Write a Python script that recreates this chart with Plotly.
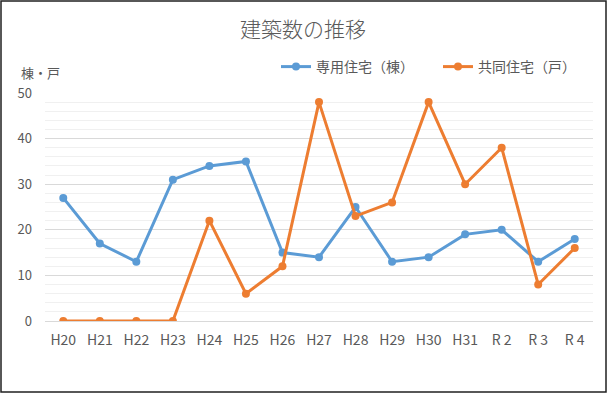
import plotly.graph_objects as go

categories = ["H20", "H21", "H22", "H23", "H24", "H25", "H26", "H27", "H28", "H29", "H30", "H31", "R 2", "R 3", "R 4"]
detached = [27, 17, 13, 31, 34, 35, 15, 14, 25, 13, 14, 19, 20, 13, 18]
collective = [0, 0, 0, 0, 22, 6, 12, 48, 23, 26, 48, 30, 38, 8, 16]

W, H = 608, 394
L, R, T, B = 45, 15, 93, 73
pw, ph = W - L - R, H - T - B

def px(x):
    return (x - L) / pw

def py(y):
    return (H - B - y) / ph

font_family = "Noto Sans CJK JP, Noto Sans, sans-serif"
gray = "#595959"

fig = go.Figure()
fig.add_trace(go.Scatter(x=categories, y=detached, mode="lines+markers", name="専用住宅（棟）",
                         line=dict(color="#5B9BD5", width=3), marker=dict(size=8, color="#5B9BD5"),
                         legend="legend"))
fig.add_trace(go.Scatter(x=categories, y=collective, mode="lines+markers", name="共同住宅（戸）",
                         line=dict(color="#ED7D31", width=3), marker=dict(size=8, color="#ED7D31"),
                         legend="legend2"))

legend_common = dict(orientation="h", xanchor="left", yanchor="middle",
                     font=dict(size=14, color=gray), bgcolor="rgba(0,0,0,0)", itemwidth=30)

fig.update_layout(
    width=W, height=H,
    margin=dict(l=L, r=R, t=T, b=B),
    paper_bgcolor="white", plot_bgcolor="white",
    font=dict(family=font_family, color=gray, size=13),
    title=dict(text="建築数の推移", x=303 / W, xanchor="center", y=1 - 30 / H, yanchor="middle",
               font=dict(size=21, color=gray, weight=300)),
    showlegend=True,
    legend=dict(x=px(276), y=py(67), **legend_common),
    legend2=dict(x=px(438), y=py(67), **legend_common),
    xaxis=dict(type="category", range=[-0.5, len(categories) - 0.5], showgrid=False, showline=False,
               ticks="", tickfont=dict(size=14, color=gray), ticklabelstandoff=9, fixedrange=True),
    yaxis=dict(range=[0, 50], dtick=10, showgrid=True, gridcolor="#D9D9D9", gridwidth=1,
               zeroline=True, zerolinecolor="#D9D9D9", zerolinewidth=1, showline=False, ticks="",
               tickfont=dict(size=13, color=gray), ticklabelstandoff=12, fixedrange=True,
               minor=dict(dtick=2, showgrid=True, gridcolor="#F0F0F0", gridwidth=1)),
)

fig.add_annotation(text="棟・戸", xref="paper", yref="paper", x=px(40), y=py(72),
                   showarrow=False, xanchor="center", yanchor="middle",
                   font=dict(size=13, color=gray, family=font_family))

fig.add_shape(type="rect", xref="paper", yref="paper",
              x0=px(1), x1=px(606), y0=py(392), y1=py(1),
              line=dict(color="#202020", width=1.5), fillcolor="rgba(0,0,0,0)", layer="above")

fig.write_html("out.html", config={"displayModeBar": False},
               post_script="document.body.style.margin='0';document.body.style.overflow='hidden';")
